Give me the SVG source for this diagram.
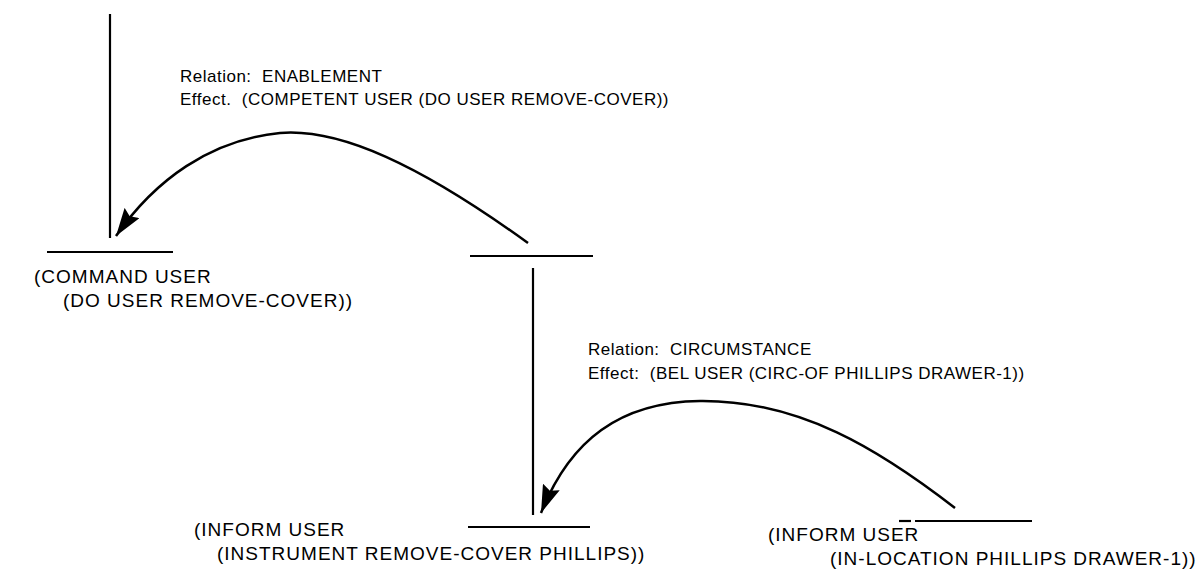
<svg xmlns="http://www.w3.org/2000/svg" width="1202" height="576" viewBox="0 0 1202 576">
<style>
.ln{stroke:#000;stroke-width:2.2;fill:none}
.cv{stroke:#000;stroke-width:2.5;fill:none}
text{font-family:"Liberation Sans",Arial,sans-serif;fill:#000;white-space:pre}
.nd{font-size:19px;letter-spacing:1px}
.lb{font-size:17px;letter-spacing:0.5px}
</style>
<defs>
<marker id="big" viewBox="0 0 28 18" refX="28" refY="9" markerWidth="28" markerHeight="18" markerUnits="userSpaceOnUse" orient="auto">
<path d="M0,0 L28,9 L0,18 L4,9 Z" fill="#000"/>
</marker>
</defs>
<rect width="1202" height="576" fill="#fff"/>
<g id="n-top">
<line class="ln" x1="110" y1="14" x2="110" y2="238"/>
</g>
<g id="n-command">
<line class="ln" x1="47" y1="252" x2="173" y2="252"/>
<text class="nd" x="34" y="283">(COMMAND USER</text>
<text class="nd" x="63" y="307">(DO USER REMOVE-COVER))</text>
</g>
<g id="n-mid">
<line class="ln" x1="470" y1="256" x2="593" y2="256"/>
<line class="ln" x1="533" y1="268" x2="533" y2="515"/>
</g>
<g id="n-instrument">
<line class="ln" x1="468" y1="527" x2="590" y2="527"/>
<text class="nd" x="194" y="536">(INFORM USER</text>
<text class="nd" x="217" y="560">(INSTRUMENT REMOVE-COVER PHILLIPS))</text>
</g>
<g id="n-location">
<line class="ln" x1="899" y1="521" x2="911" y2="521"/>
<line class="ln" x1="915" y1="521" x2="1032" y2="521"/>
<text class="nd" x="768" y="541">(INFORM USER</text>
<text class="nd" x="830" y="565">(IN-LOCATION PHILLIPS DRAWER-1))</text>
</g>
<g id="labels">
<text class="lb" x="180" y="82">Relation:  ENABLEMENT</text>
<text class="lb" x="180" y="105">Effect.  (COMPETENT USER (DO USER REMOVE-COVER))</text>
<text class="lb" x="588" y="355">Relation:  CIRCUMSTANCE</text>
<text class="lb" x="588" y="379">Effect:  (BEL USER (CIRC-OF PHILLIPS DRAWER-1))</text>
</g>
<g id="connectors">
<path class="cv" d="M528,243 C420,165 340,128 280,133 C210,140 155,180 116,236" marker-end="url(#big)"/>
<path class="cv" d="M955,508 C880,450 800,400 700,401 C620,402 570,440 541,513" marker-end="url(#big)"/>
</g>
</svg>
